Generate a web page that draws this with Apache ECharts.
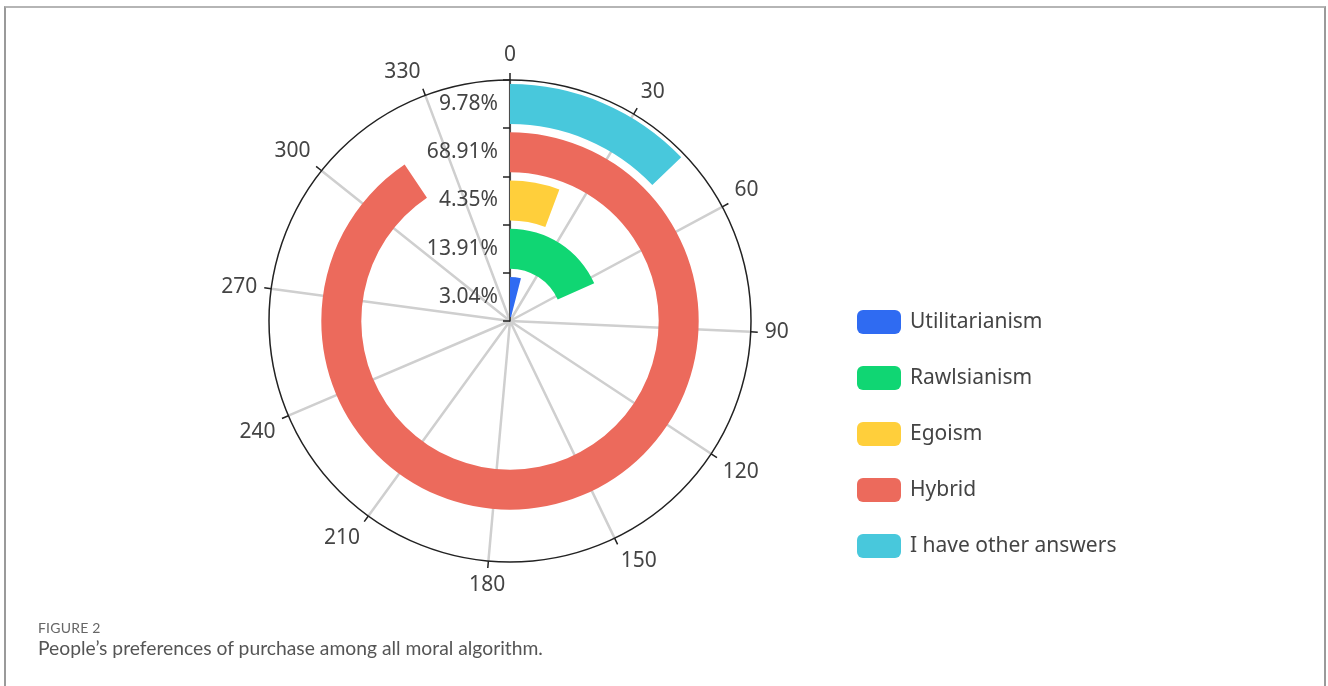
<!DOCTYPE html>
<html><head><meta charset="utf-8">
<script src="https://cdn.jsdelivr.net/npm/echarts@6/dist/echarts.min.js"></script>
<style>
html,body{margin:0;padding:0;background:#fff;}
#frame{position:absolute;left:4px;top:6px;width:1322px;height:700px;border-top:2px solid #b5b5b5;border-left:2px solid #9a9a9a;border-right:2px solid #9a9a9a;box-sizing:border-box;}
#chart{position:absolute;left:0;top:0;width:1328px;height:686px;}
#figno{position:absolute;left:38px;top:619px;font-family:"Lato","Open Sans",sans-serif;font-size:14px;color:#666;letter-spacing:0.2px;}
#cap{position:absolute;left:38px;top:636px;font-family:"Lato","Open Sans",sans-serif;font-size:19.3px;color:#555;}
</style></head>
<body>
<div id="frame"></div>
<div id="chart"></div>
<div id="figno">FIGURE 2</div>
<div id="cap">People’s preferences of purchase among all moral algorithm.</div>
<script>
const categories = ['3.04%', '13.91%', '4.35%', '68.91%', '9.78%'];
const seriesNames = ['Utilitarianism', 'Rawlsianism', 'Egoism', 'Hybrid', 'I have other answers'];
const counts = [14, 64, 20, 317, 45];
const colors = ['#2F6BF2', '#10D673', '#FFCF3B', '#EC6A5C', '#48C8DC'];
const angleMax = 350;
const angleInterval = 30;

const chart = echarts.init(document.getElementById('chart'));
const font = '"Noto Sans","Open Sans",sans-serif';
const series = seriesNames.map((name, i) => ({
  type: 'bar',
  name: name,
  coordinateSystem: 'polar',
  stack: 'all',
  barWidth: '83%',
  itemStyle: { color: colors[i] },
  data: categories.map((c, j) => (j === i ? counts[i] : '-'))
}));
chart.setOption({
  animation: false,
  color: colors,
  polar: { center: [510, 321], radius: 241 },
  angleAxis: {
    type: 'value', min: 0, max: angleMax, interval: angleInterval,
    startAngle: 90, clockwise: true,
    axisLine: { show: true, lineStyle: { color: '#222', width: 1.5 } },
    axisTick: { show: true, length: 7, lineStyle: { color: '#222', width: 1.5 } },
    axisLabel: { show: true, fontSize: 21, color: '#444', fontFamily: font, margin: 14 },
    splitLine: { show: true, lineStyle: { color: '#cfcfcf', width: 2.5 } }
  },
  radiusAxis: {
    type: 'category', data: categories,
    axisLine: { show: true, lineStyle: { color: '#222', width: 1.5 } },
    axisTick: { show: true, length: 7, lineStyle: { color: '#222', width: 1.5 } },
    axisLabel: { fontSize: 21, color: '#444', fontFamily: font, margin: 12, interval: 0, hideOverlap: false },
    splitLine: { show: false }
  },
  legend: {
    orient: 'vertical', left: 852, top: 305,
    itemWidth: 44, itemHeight: 24, itemGap: 32,
    icon: 'roundRect',
    textStyle: { fontSize: 21, color: '#444', fontFamily: font, padding: [0, 0, 0, 4] },
    data: seriesNames
  },
  series: series
});
</script>
</body></html>
